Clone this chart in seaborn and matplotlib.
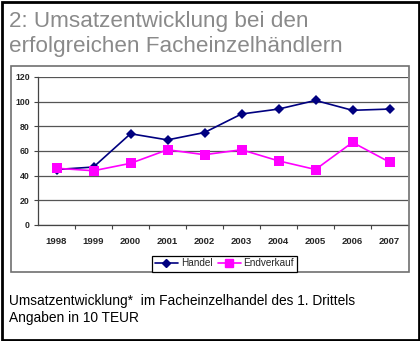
import matplotlib
matplotlib.use("Agg")
import matplotlib.pyplot as plt
from matplotlib.patches import Rectangle
from matplotlib.lines import Line2D
import seaborn as sns
import pandas as pd

years = ["1998", "1999", "2000", "2001", "2002", "2003", "2004", "2005", "2006", "2007"]
handel = [45, 47, 74, 69, 75, 90, 94, 101, 93, 94]
endverkauf = [46, 44, 50, 61, 57, 61, 52, 45, 67, 51]
y_ticks = [0, 20, 40, 60, 80, 100, 120]

title_lines = ["2: Umsatzentwicklung bei den", "erfolgreichen Facheinzelhändlern"]
caption_lines = ["Umsatzentwicklung*  im Facheinzelhandel des 1. Drittels",
                 "Angaben in 10 TEUR"]

df = pd.DataFrame({
    "Jahr": years * 2,
    "Wert": handel + endverkauf,
    "Reihe": ["Handel"] * len(years) + ["Endverkauf"] * len(years),
})

sns.set_style("white")
plt.rcParams["font.family"] = ["Liberation Sans", "DejaVu Sans"]

W, H = 420, 341
fig = plt.figure(figsize=(W / 100, H / 100), dpi=100)

# outer frame
fig.patches.append(Rectangle((1.5 / W, 1.5 / H), (W - 3) / W, (H - 3) / H,
                             transform=fig.transFigure, fill=False,
                             edgecolor="black", linewidth=2))
# chart box
fig.patches.append(Rectangle((11 / W, 1 - 272 / H), (409 - 11) / W, (272 - 65.5) / H,
                             transform=fig.transFigure, fill=False,
                             edgecolor="#707070", linewidth=1.2))

for txt, base in zip(title_lines, [27, 52]):
    fig.text(9 / W, 1 - base / H, txt, ha="left", va="baseline", fontsize=16.2,
             color="#8a8a8a")
for txt, base in zip(caption_lines, [305, 322]):
    fig.text(9 / W, 1 - base / H, txt, ha="left", va="baseline",
             fontsize=9.9, color="black")

ax = fig.add_axes([38 / W, 1 - 225 / H, (408 - 38) / W, (225 - 77) / H])
palette = {"Handel": "#000080", "Endverkauf": "#ff00ff"}
sns.lineplot(data=df, x="Jahr", y="Wert", hue="Reihe", style="Reihe",
             markers={"Handel": "D", "Endverkauf": "s"},
             dashes=False, palette=palette, sort=False,
             markersize=5, markeredgewidth=0, linewidth=1.2, ax=ax, legend=False)
for line in ax.lines:
    if line.get_color() == "#ff00ff":
        line.set_markersize(6.5)

ax.set_ylim(0, 120)
ax.set_xlim(-0.5, len(years) - 0.5)
ax.set_yticks(y_ticks)
ax.set_yticklabels([str(t) for t in y_ticks], fontsize=6.3, fontweight="bold")
ax.set_xticks(range(len(years)))
ax.set_xticklabels(years, fontsize=6.8, fontweight="bold")
ax.set_xlabel("")
ax.set_ylabel("")
ax.grid(axis="y", color="#555555", linewidth=0.9)
ax.grid(axis="x", visible=False)
for s in ["top", "right"]:
    ax.spines[s].set_visible(False)
for s in ["left", "bottom"]:
    ax.spines[s].set_visible(True)
    ax.spines[s].set_color("#444444")
    ax.spines[s].set_linewidth(0.9)
ax.tick_params(axis="y", length=3, width=0.8, direction="out", pad=3, left=True, color="#444444")
ax.tick_params(axis="x", length=0, pad=9)
# tick marks between categories on the x axis
ax.set_xticks([i + 0.5 for i in range(len(years) - 1)], minor=True)
ax.tick_params(axis="x", which="minor", length=3, width=0.8, direction="out", bottom=True, color="#444444")
ax.set_axisbelow(True)

handles = [Line2D([], [], color="#000080", marker="D", markersize=4, linewidth=1.2),
           Line2D([], [], color="#ff00ff", marker="s", markersize=5.5, linewidth=1.2)]
leg = fig.legend(handles, ["Handel", "Endverkauf"], loc="lower center",
                 bbox_to_anchor=(224.5 / W, 1 - 271.5 / H), ncol=2, fontsize=7.2,
                 frameon=True, fancybox=False, edgecolor="black", framealpha=1,
                 handlelength=2.3, handletextpad=0.3, columnspacing=0.5,
                 borderpad=0.3, borderaxespad=0)
leg.get_frame().set_linewidth(0.9)

fig.savefig("out.png", dpi=100)
